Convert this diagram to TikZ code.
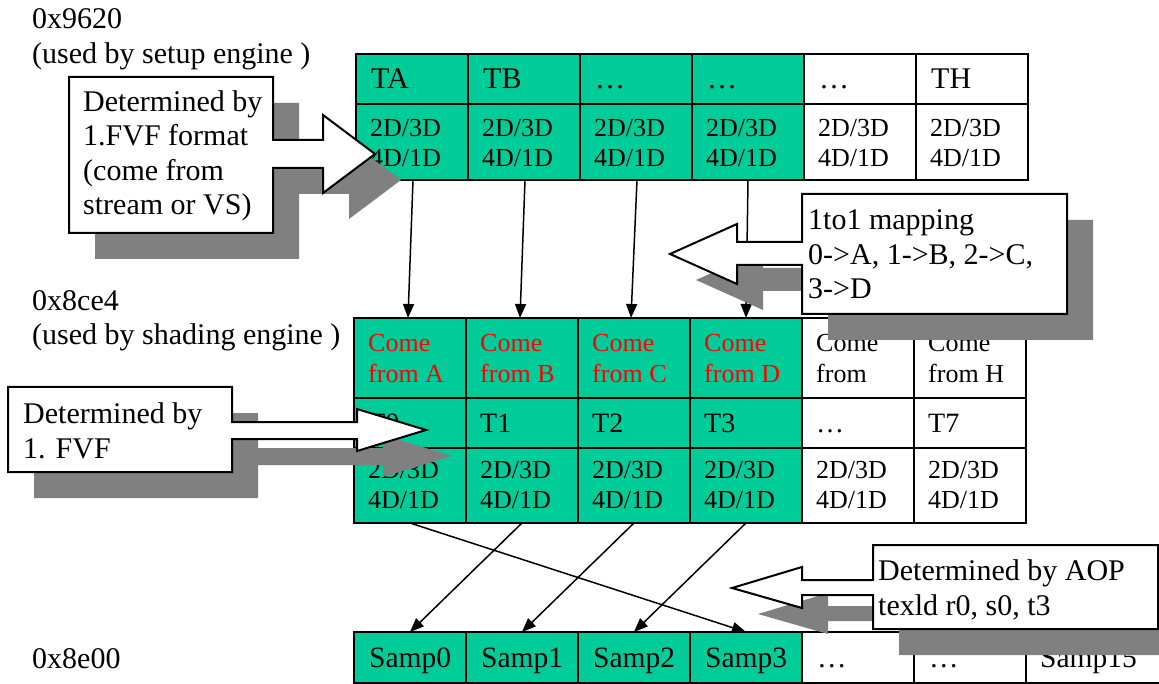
\documentclass[tikz,border=0pt]{standalone}
\usepackage{fontspec}
\setmainfont{Liberation Serif}
\usetikzlibrary{arrows.meta}

\definecolor{cellgreen}{RGB}{0,204,153}
\definecolor{shadowgray}{RGB}{128,128,128}

% multi-line text nodes are placed by the baseline of their last line
\tikzset{
  cell/.style={draw=black, line width=2pt, minimum width=112pt, minimum height=#1,
    anchor=north west, inner sep=0pt, outer sep=0pt},
  txtbig/.style={anchor=base west, inner sep=0pt, align=left,
    font=\fontsize{30}{34.5}\selectfont},
  txtmid/.style={anchor=base west, inner sep=0pt, align=left,
    font=\fontsize{28}{32}\selectfont},
  txtsmall/.style={anchor=base west, inner sep=0pt, align=left,
    font=\fontsize{26}{30}\selectfont},
  txtcome/.style={anchor=base west, inner sep=0pt, align=left,
    font=\fontsize{26}{31}\selectfont},
  conn/.style={line width=1.5pt, -{Triangle[length=14pt,width=11pt]}},
  callshadow/.style={fill=shadowgray, shift={(26,26)}},
  callbox/.style={draw=black, line width=2pt, fill=white, line join=miter},
}

% outlines of the four arrow callouts
\def\calloutA{(69,77) -- (273,77) -- (273,140) -- (323,140) -- (323,115) -- (375,154)
  -- (323,193) -- (323,168) -- (273,168) -- (273,233) -- (69,233) -- cycle}
\def\calloutB{(802,194) -- (1067,194) -- (1067,314) -- (802,314) -- (802,265) -- (737,265)
  -- (737,284) -- (670,254) -- (737,224) -- (737,242) -- (802,242) -- cycle}
\def\calloutC{(8,387) -- (232,387) -- (232,422) -- (357,422) -- (357,409) -- (426,430)
  -- (357,451) -- (357,439) -- (232,439) -- (232,472) -- (8,472) -- cycle}
\def\calloutD{(873,545) -- (1158,545) -- (1158,629) -- (873,629) -- (873,595) -- (802,595)
  -- (802,608) -- (732,588) -- (802,567) -- (802,580) -- (873,580) -- cycle}

\begin{document}
\begin{tikzpicture}[x=1pt,y=-1pt]
\useasboundingbox (0,0) rectangle (1159,684);
\clip (0,0) rectangle (1159,684);

% address labels
\node[txtbig] (addrA) at (32,63.5) {0x9620\\(used by setup engine )};
\node[txtbig] (addrB) at (32,345) {0x8ce4\\(used by shading engine )};
\node[txtbig] (addrC) at (32,668) {0x8e00};

% setup engine table
\foreach \i/\t/\f in {1/TA/cellgreen,2/TB/cellgreen,3/…/cellgreen,4/…/cellgreen,5/…/white,6/TH/white}{
  \node[cell={50pt}, fill=\f] (a\i) at ({356+112*(\i-1)},54) {};
  \node[txtbig] (at\i) at ([shift={(15,35)}]a\i.north west) {\t};
  \node[cell={76pt}, fill=\f] (b\i) at ({356+112*(\i-1)},104) {};
  \node[txtsmall] (bt\i) at ([shift={(14,63)}]b\i.north west) {2D/3D\\4D/1D};
}

% shading engine table
\foreach \i/\t/\u/\f/\c in {1/from A/T0/cellgreen/red, 2/from B/T1/cellgreen/red,
    3/from C/T2/cellgreen/red, 4/from D/T3/cellgreen/red, 5/from/…/white/black, 6/from H/T7/white/black}{
  \node[cell={80pt}, fill=\f] (c\i) at ({354+112*(\i-1)},318) {};
  \node[txtcome, text=\c] (ct\i) at ([shift={(14,64)}]c\i.north west) {Come\\\t};
  \node[cell={50pt}, fill=\f] (d\i) at ({354+112*(\i-1)},398) {};
  \node[txtmid] (dt\i) at ([shift={(14,34)}]d\i.north west) {\u};
  \node[cell={75pt}, fill=\f] (e\i) at ({354+112*(\i-1)},448) {};
  \node[txtsmall] (et\i) at ([shift={(14,60)}]e\i.north west) {2D/3D\\4D/1D};
}

% sampler table
\foreach \i/\t/\f in {1/Samp0/cellgreen,2/Samp1/cellgreen,3/Samp2/cellgreen,4/Samp3/cellgreen,5/…/white,6/…/white}{
  \node[cell={51pt}, fill=\f] (f\i) at ({354+112*(\i-1)},632) {};
  \node[txtbig, font=\fontsize{29.5}{34}\selectfont] (ft\i) at ([shift={(15,35)}]f\i.north west) {\t};
}
\node[cell={51pt}, minimum width=140pt, fill=white] (f7) at (1026,632) {};
\node[txtbig, font=\fontsize{29.5}{34}\selectfont] (ft7) at ([shift={(14,35)}]f7.north west) {Samp15};

% mapping arrows
\draw[conn] ([xshift=1pt]b1.south) -- ([xshift=-2pt]c1.north);
\draw[conn] ([xshift=1pt]b2.south) -- ([xshift=-2pt]c2.north);
\draw[conn] ([xshift=1pt]b3.south) -- ([xshift=-3pt]c3.north);
\draw[conn] (b4.south) -- (c4.north);
\draw[conn] (e2.south) -- (f1.north);
\draw[conn] (e3.south) -- (f2.north);
\draw[conn] (e4.south) -- (f3.north);
\draw[conn] (e1.south) -- (f4.north);

% callouts with drop shadows
\fill[callshadow] \calloutA;
\draw[callbox] \calloutA;
\node[txtbig] (noteA) at (83,215) {Determined by\\1.FVF format\\(come from\\stream or VS)};

\fill[callshadow] \calloutB;
\draw[callbox] \calloutB;
\node[txtbig] (noteB) at (808,299) {1to1 mapping\\0->A, 1->B, 2->C,\\3->D};

\fill[callshadow] \calloutC;
\draw[callbox] \calloutC;
\node[txtbig] (noteC) at (23,458) {Determined by\\1. FVF};

\fill[callshadow] \calloutD;
\draw[callbox] \calloutD;
\node[txtbig] (noteD) at (878,615) {Determined by AOP\\texld r0, s0, t3};
\end{tikzpicture}
\end{document}
